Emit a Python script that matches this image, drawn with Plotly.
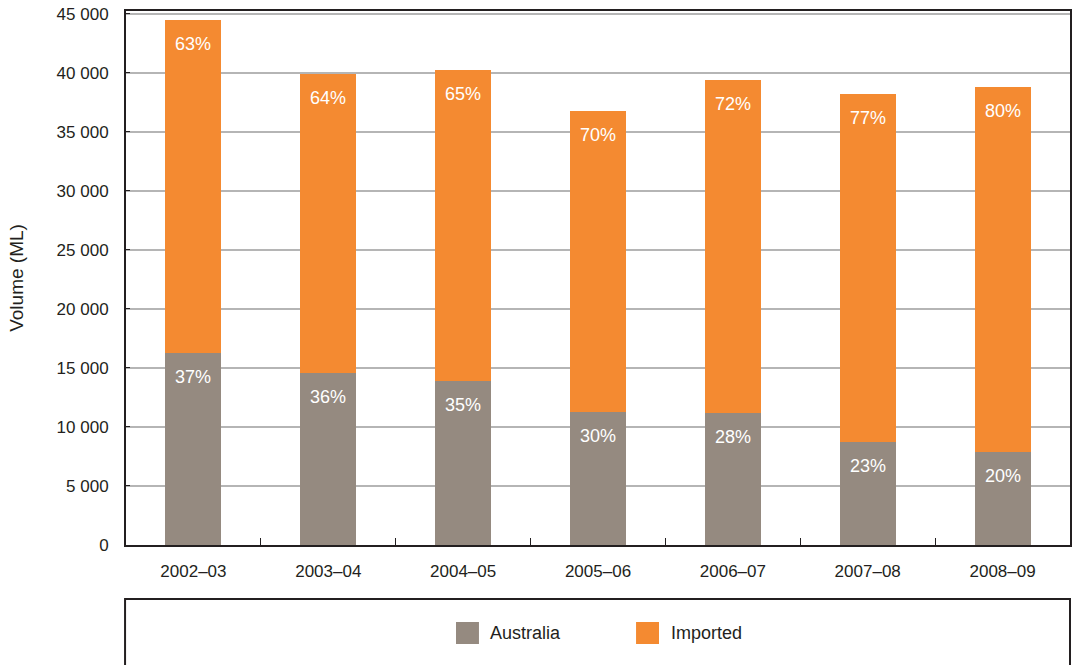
import plotly.graph_objects as go

categories = ["2002–03", "2003–04", "2004–05", "2005–06", "2006–07", "2007–08", "2008–09"]
australia = [16270, 14580, 13900, 11270, 11190, 8730, 7880]
imported = [28220, 25340, 26350, 25510, 28220, 29490, 30930]
australia_pct = [37, 36, 35, 30, 28, 23, 20]
imported_pct = [63, 64, 65, 70, 72, 77, 80]
y_tickvals = [0, 5000, 10000, 15000, 20000, 25000, 30000, 35000, 40000, 45000]
y_ticktext = ["0", "5 000", "10 000", "15 000", "20 000", "25 000", "30 000", "35 000", "40 000", "45 000"]
series_names = ["Australia", "Imported"]

C_AUS = "#958a80"
C_IMP = "#f48a31"
DARK = "#231f20"
FONT = "Liberation Sans, Arial, sans-serif"

fig = go.Figure()
fig.add_trace(go.Bar(x=categories, y=australia, name=series_names[0], marker_color=C_AUS,
                     marker_line_width=0, showlegend=False))
fig.add_trace(go.Bar(x=categories, y=imported, name=series_names[1], marker_color=C_IMP,
                     marker_line_width=0, showlegend=False))

annotations = []
for c, a, i, pa, pi in zip(categories, australia, imported, australia_pct, imported_pct):
    annotations.append(dict(x=c, y=a, text=f"{pa}%", showarrow=False, yshift=-24,
                            font=dict(color="white", size=18, family=FONT)))
    annotations.append(dict(x=c, y=a + i, text=f"{pi}%", showarrow=False, yshift=-24,
                            font=dict(color="white", size=18, family=FONT)))

# legend (drawn manually to match the large swatches)
legend_items = [(series_names[0], C_AUS, 0.3496, 0.3739, 0.3835),
                (series_names[1], C_IMP, 0.5403, 0.5646, 0.5752)]
shapes = [dict(type="rect", xref="paper", yref="paper", x0=-0.001, x1=1.0, y0=-0.1011, y1=-0.30,
               line=dict(color=DARK, width=2), fillcolor="white", layer="below")]
for name, col, x0, x1, xt in legend_items:
    shapes.append(dict(type="rect", xref="paper", yref="paper", x0=x0, x1=x1,
                       y0=-0.1854, y1=-0.1442, line=dict(width=0), fillcolor=col))
    annotations.append(dict(xref="paper", yref="paper", x=xt, y=-0.1648, text=name,
                            showarrow=False, xanchor="left", yanchor="middle",
                            font=dict(color=DARK, size=18, family=FONT)))

fig.update_layout(
    barmode="stack",
    bargap=0.585,
    width=1072, height=665,
    margin=dict(l=126, r=2, t=11, b=120, autoexpand=False),
    paper_bgcolor="white", plot_bgcolor="white",
    font=dict(family=FONT, color=DARK, size=17),
    annotations=annotations,
    shapes=shapes,
    xaxis=dict(
        showline=True, linecolor=DARK, linewidth=2, mirror=True,
        ticks="inside", tickson="boundaries", ticklen=7, tickcolor=DARK, tickwidth=1,
        tickfont=dict(size=17, color=DARK), ticklabelstandoff=10,
        showgrid=False, automargin=False,
    ),
    yaxis=dict(
        range=[0, 45250],
        tickvals=y_tickvals, ticktext=y_ticktext,
        showline=True, linecolor=DARK, linewidth=2, mirror=True,
        ticks="inside", ticklen=4, tickcolor=DARK,
        tickfont=dict(size=17, color=DARK), ticklabelstandoff=12,
        ticklabeloverflow="allow",
        showgrid=True, gridcolor="#b5b5b5", gridwidth=1.5,
        zeroline=False, automargin=False,
        title=dict(text="Volume (ML)", font=dict(size=19, color=DARK), standoff=28),
    ),
)

fig.write_html(
    "out.html",
    config={"displayModeBar": False},
    post_script="document.body.style.margin='0';document.body.style.overflow='hidden';",
)
